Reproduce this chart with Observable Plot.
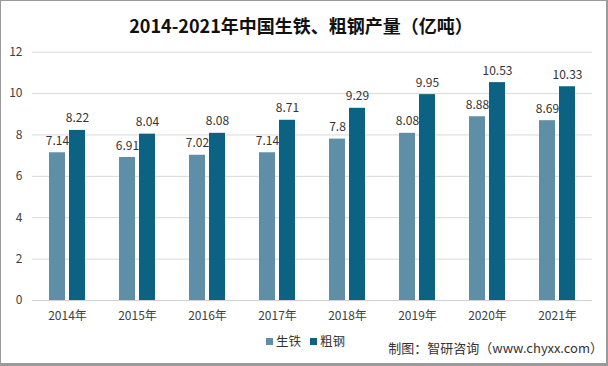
<!DOCTYPE html>
<html><head><meta charset="utf-8">
<script src="https://cdn.jsdelivr.net/npm/d3@7"></script>
<script src="https://cdn.jsdelivr.net/npm/@observablehq/plot@0.6"></script>
<style>
body{margin:0;background:#fff;}
#wrap{position:relative;width:608px;height:366px;overflow:hidden;background:#fff;font-family:"Noto Sans CJK SC","Noto Sans",sans-serif;}
#title{position:absolute;left:0;width:602px;top:12px;text-align:center;font-size:18px;font-weight:bold;color:#111;line-height:26px;}
#chart{position:absolute;left:0;top:40px;}
#legend{position:absolute;left:266px;top:333px;font-size:12.5px;color:#333;line-height:16px;white-space:nowrap;}
#legend span.sw{display:inline-block;width:7px;height:7px;margin-right:3px;vertical-align:1px;}
#caption{position:absolute;right:5px;top:338px;font-size:13px;color:#333;line-height:20px;white-space:nowrap;}
#border{position:absolute;left:0;top:0;width:608px;height:366px;box-sizing:border-box;border:1px solid #9a9a9a;border-bottom:3px solid #9a9a9a;border-right:2px solid #9a9a9a;pointer-events:none;}
</style></head>
<body>
<div id="wrap">
  <div id="title">2014-2021年中国生铁、粗钢产量（亿吨）</div>
  <div id="chart"></div>
  <div id="legend"></div>
  <div id="caption">制图：智研咨询（www.chyxx.com）</div>
  <div id="border"></div>
</div>
<script>
const years = ["2014","2015","2016","2017","2018","2019","2020","2021"];
const seriesNames = ["生铁","粗钢"];
const pigIron = [7.14,6.91,7.02,7.14,7.8,8.08,8.88,8.69];
const crudeSteel = [8.22,8.04,8.08,8.71,9.29,9.95,10.53,10.33];
const colors = ["#5e8fa6","#0c6283"];
const yTicks = [0,2,4,6,8,10,12];

const data = [];
years.forEach((y,i)=>{
  data.push({year:y, series:seriesNames[0], value:pigIron[i]});
  data.push({year:y, series:seriesNames[1], value:crudeSteel[i]});
});

const plot = Plot.plot({
  width: 608,
  height: 290,
  marginTop: 11.7,
  marginBottom: 30,
  marginLeft: 32,
  marginRight: 16,
  style:{fontFamily:'"Noto Sans CJK SC","Noto Sans",sans-serif', fontSize:"12px", color:"#404040", background:"transparent"},
  fx:{domain: years, padding:0, label:null, tickFormat:d=>d+"年", tickSize:0, tickPadding:11, axis:"bottom"},
  x:{domain: seriesNames, paddingInner:0.2, paddingOuter:0.85, axis:null},
  y:{domain:[0,12], ticks:yTicks, label:null},
  color:{domain: seriesNames, range: colors},
  marks:[
    Plot.ruleY(yTicks.filter(t=>t>0), {stroke:"#d9d9d9", strokeWidth:1}),
    Plot.ruleY([0], {stroke:"#d0d0d0", strokeWidth:1}),
    Plot.axisY({ticks:yTicks, tickSize:0, tickPadding:10, label:null, fontSize:12, fill:"#404040"}),
    Plot.barY(data, {fx:"year", x:"series", y:"value", fill:"series"}),
    Plot.text(data, {fx:"year", x:"series", y:"value", text:d=>String(d.value), lineAnchor:"bottom", dy:-8, fontSize:12, fill:"#333"})
  ]
});
document.getElementById("chart").appendChild(plot);

const leg = document.getElementById("legend");
seriesNames.forEach((s,i)=>{
  const item = document.createElement("span");
  item.style.marginRight = "9px";
  item.innerHTML = `<span class="sw" style="background:${colors[i]}"></span>${s}`;
  leg.appendChild(item);
});
</script>
</body></html>
